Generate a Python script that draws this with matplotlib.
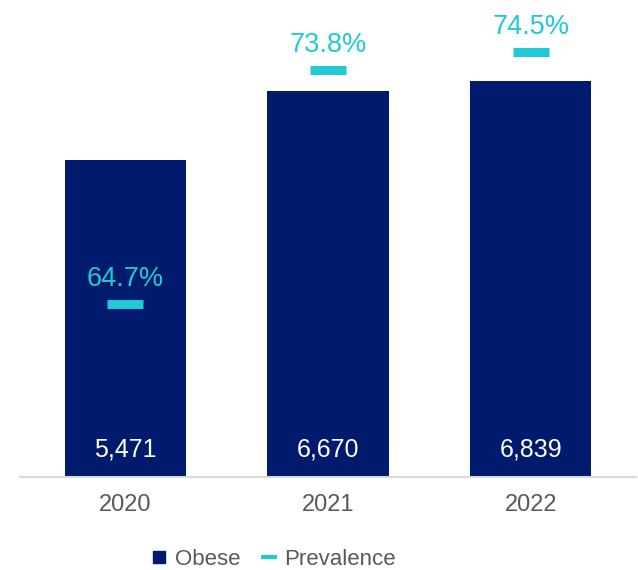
import matplotlib
matplotlib.use("Agg")
import matplotlib.pyplot as plt
from matplotlib.lines import Line2D

years = ["2020", "2021", "2022"]
obese = [5471, 6670, 6839]
prevalence = [64.7, 73.8, 74.5]
obese_labels = ["5,471", "6,670", "6,839"]
prev_labels = ["64.7%", "73.8%", "74.5%"]

NAVY = "#001B6E"
TEAL = "#20C9D3"
GRAY = "#595959"
FONT = ["Liberation Sans Narrow", "Liberation Sans", "DejaVu Sans"]
plt.rcParams["font.family"] = FONT

fig = plt.figure(figsize=(6.38, 5.70), dpi=100)
ax = fig.add_axes([20/638, 93/570, 616/638, 463.5/570])
x = list(range(len(years)))
ax.bar(x, obese, width=0.6, color=NAVY, zorder=2)
ax.set_xlim(-0.52, 2.52)
ax.set_ylim(0, 8000)
ax.set_yticks([])
for s in ["left", "right", "top"]:
    ax.spines[s].set_visible(False)
ax.spines["bottom"].set_color("#D9D9D9")
ax.spines["bottom"].set_linewidth(1.5)
ax.set_xticks(x)
ax.set_xticklabels(years, fontsize=17, color=GRAY)
ax.tick_params(axis="x", length=0, pad=12)

for xi, lab in zip(x, obese_labels):
    ax.annotate(lab, (xi, 0), xytext=(0, 20), textcoords="offset points",
                ha="center", va="center", color="white", fontsize=18)

ax2 = ax.twinx()
ax2.set_ylim(58, 76)
ax2.axis("off")
ax2.plot(x, prevalence, linestyle="none", marker="_", markersize=26.5,
         markeredgewidth=6.5, color=TEAL, zorder=3)
for xi, v, lab in zip(x, prevalence, prev_labels):
    ax2.annotate(lab, (xi, v), xytext=(0, 9), textcoords="offset points",
                 ha="center", va="bottom", color=TEAL, fontsize=19.5)

handles = [
    Line2D([], [], marker="s", linestyle="none", markersize=8.6, color=NAVY),
    Line2D([], [], marker="_", linestyle="none", markersize=11, markeredgewidth=3, color=TEAL),
]
fig.legend(handles, ["Obese", "Prevalence"], loc="lower center",
           bbox_to_anchor=(0.428, -0.035), ncol=2, frameon=False,
           fontsize=16, labelcolor=GRAY, handlelength=0.8,
           handletextpad=0.3, columnspacing=0.9)

fig.savefig("out.png", dpi=100)
